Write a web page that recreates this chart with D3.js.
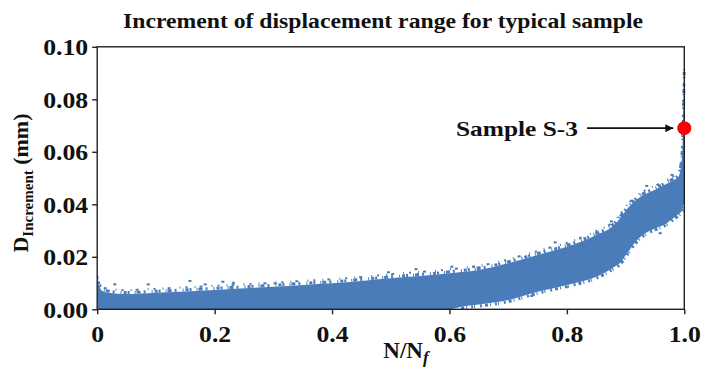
<!DOCTYPE html>
<html><head><meta charset="utf-8">
<script src="https://cdn.jsdelivr.net/npm/d3@7"></script>
<style>body{margin:0;background:#fff}svg{display:block}text{font-family:"Liberation Serif","Times New Roman",serif;font-weight:bold;fill:#111}</style>
</head><body><svg id="c" width="702" height="372"></svg>
<script>
// Band envelope (N/Nf, D in mm)
const xs    = [0, 0.004, 0.012, 0.05, 0.1, 0.2, 0.3, 0.35, 0.4, 0.5, 0.6, 0.62, 0.65, 0.7, 0.75, 0.8, 0.85, 0.88, 0.89, 0.9, 0.92, 0.935, 0.95, 0.97, 0.98, 0.99, 0.994, 0.997, 0.999, 1.0];
const upper = [0.0112, 0.0085, 0.0066, 0.0058, 0.0063, 0.0074, 0.0086, 0.0093, 0.0099, 0.0118, 0.0137, 0.0142, 0.0150, 0.0175, 0.0207, 0.0238, 0.0283, 0.0320, 0.0345, 0.0375, 0.0420, 0.0440, 0.0455, 0.0478, 0.0490, 0.0505, 0.0540, 0.0620, 0.0800, 0.0900];
const lower = [0, 0, 0, 0, 0, 0, 0, 0, 0, 0, 0, 0.0010, 0.0018, 0.0035, 0.0067, 0.0093, 0.0124, 0.0160, 0.0175, 0.0205, 0.0265, 0.0292, 0.0308, 0.0328, 0.0345, 0.0362, 0.0370, 0.0380, 0.0400, 0.0400];
// Scattered outlier points
const outX = [0.030, 0.087, 0.158, 0.184, 0.214, 0.232, 0.303, 0.496, 0.543, 0.604, 0.641, 0.650, 0.780, 0.876, 0.936, 0.979, 0.740, 0.800, 0.959];
const outY = [0.0095, 0.0095, 0.0108, 0.0095, 0.0105, 0.0101, 0.0099, 0.0141, 0.0153, 0.0162, 0.0162, 0.0160, 0.0255, 0.0335, 0.0470, 0.0512, 0.0051, 0.0084, 0.0290];
const highlight = {x: 1.0, y: 0.069, label: "Sample S-3"};
const xTicks = [0, 0.2, 0.4, 0.6, 0.8, 1.0];
const xTickLabels = ["0", "0.2", "0.4", "0.6", "0.8", "1.0"];
const yTicks = [0, 0.02, 0.04, 0.06, 0.08, 0.10];
const title = "Increment of displacement range for typical sample";

const svg = d3.select("#c");
const L = 97.2, R = 684.3, T = 46.8, B = 309.3;
const x = d3.scaleLinear().domain([0, 1]).range([L, R]);
const y = d3.scaleLinear().domain([0, 0.1]).range([B, T]);
const blue = "#4a7cba";

svg.append("clipPath").attr("id", "clip").append("rect")
  .attr("x", L).attr("y", T).attr("width", R - L + 1.5).attr("height", B - T);

const band = xs.map((d, i) => ({x: d, lo: lower[i], hi: upper[i]}));
const g = svg.append("g").attr("clip-path", "url(#clip)");
g.append("path").datum(band)
  .attr("fill", blue)
  .attr("d", d3.area().x(d => x(d.x)).y0(d => y(d.lo)).y1(d => y(d.hi)).curve(d3.curveMonotoneX));
// ragged edges of the dense scatter
g.append("path").datum(band).attr("fill", "none").attr("stroke", blue).attr("stroke-width", 3)
  .attr("stroke-dasharray", "1 2 3 1 2 5 1 1 4 3 2 6")
  .attr("d", d3.line().x(d => x(d.x)).y(d => y(d.hi) - 1.5).curve(d3.curveMonotoneX));
g.append("path").datum(band).attr("fill", "none").attr("stroke", blue).attr("stroke-width", 2)
  .attr("stroke-dasharray", "2 7 1 4 3 9 1 5")
  .attr("d", d3.line().x(d => x(d.x)).y(d => y(d.hi) - 4).curve(d3.curveMonotoneX));
g.append("path").datum(band.filter(d => d.lo > 0)).attr("fill", "none").attr("stroke", blue).attr("stroke-width", 3)
  .attr("stroke-dasharray", "3 2 1 4 2 1 1 5 2 3")
  .attr("d", d3.line().x(d => x(d.x)).y(d => y(d.lo) + 1.5).curve(d3.curveMonotoneX));
g.selectAll("rect.o").data(outX).join("rect").attr("class", "o")
  .attr("x", (d) => x(d) - 1.5).attr("y", (d, i) => y(outY[i]) - 1)
  .attr("width", 3).attr("height", 2).attr("fill", blue);

// frame
svg.append("rect").attr("x", L).attr("y", T).attr("width", R - L).attr("height", B - T)
  .attr("fill", "none").attr("stroke", "#222").attr("stroke-width", 1.4);

const xa = svg.append("g").attr("transform", `translate(0,${B})`)
  .call(d3.axisBottom(x).tickValues(xTicks).tickFormat((d, i) => xTickLabels[i]).tickSize(5).tickPadding(11));
const ya = svg.append("g").attr("transform", `translate(${L},0)`)
  .call(d3.axisLeft(y).tickValues(yTicks).tickFormat(d3.format(".2f")).tickSize(5).tickPadding(3));
[xa, ya].forEach(a => {
  a.select(".domain").remove();
  a.selectAll("line").attr("stroke", "#222").attr("stroke-width", 1.4);
  a.selectAll("text").attr("font-family", "Liberation Serif, serif").attr("font-weight", "bold")
    .attr("font-size", 23).attr("fill", "#111").attr("transform", "scale(1.12,1)");
});
ya.selectAll("text").attr("dy", "0.34em");

// title
svg.append("text").attr("x", 383).attr("y", 28).attr("text-anchor", "middle")
  .attr("font-size", 20).attr("textLength", 520).attr("lengthAdjust", "spacingAndGlyphs").text(title);

// x label
const xl = svg.append("text").attr("x", 406).attr("y", 358).attr("text-anchor", "middle").attr("font-size", 23);
xl.append("tspan").text("N/N");
xl.append("tspan").attr("font-style", "italic").attr("font-size", 17).attr("dy", 5).text("f");

// y label
const yl = svg.append("text").attr("transform", "translate(28,183) rotate(-90)").attr("text-anchor", "middle").attr("font-size", 22);
yl.append("tspan").text("D");
yl.append("tspan").attr("font-size", 15).attr("dy", 5).text("Increment");
yl.append("tspan").attr("dy", -5).text(" (mm)");

// highlight marker and annotation
svg.append("circle").attr("cx", x(highlight.x)).attr("cy", y(highlight.y)).attr("r", 7).attr("fill", "#ff0000");
svg.append("defs").append("marker").attr("id", "ah").attr("viewBox", "0 0 10 10")
  .attr("refX", 10).attr("refY", 5).attr("markerWidth", 10).attr("markerHeight", 8)
  .attr("markerUnits", "userSpaceOnUse").attr("orient", "auto")
  .append("path").attr("d", "M0,0L10,5L0,10z").attr("fill", "#111");
svg.append("line").attr("x1", 587).attr("y1", y(highlight.y)).attr("x2", x(highlight.x) - 11).attr("y2", y(highlight.y))
  .attr("stroke", "#111").attr("stroke-width", 1.8).attr("marker-end", "url(#ah)");
svg.append("text").attr("x", 578).attr("y", y(highlight.y) + 7.5).attr("text-anchor", "end")
  .attr("font-size", 22).attr("textLength", 122).attr("lengthAdjust", "spacingAndGlyphs").text(highlight.label);
</script></body></html>
